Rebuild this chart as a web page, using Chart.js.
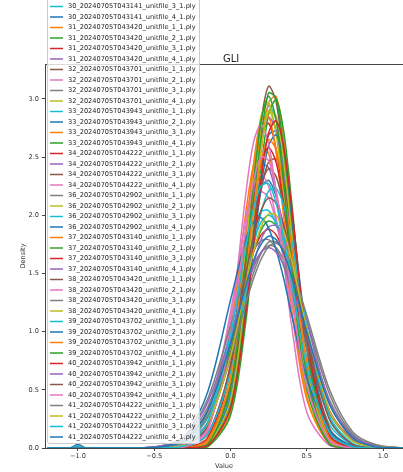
<!DOCTYPE html>
<html>
<head>
<meta charset="utf-8">
<script src="https://cdn.jsdelivr.net/npm/chart.js@4.4.1/dist/chart.umd.min.js"></script>
<style>
  html, body { margin: 0; padding: 0; background: #fff; }
  #c { display: block; }
</style>
</head>
<body>
<canvas id="c" width="403" height="472"></canvas>
<script>
const xs = [-1.2, -1.05, -1.0, -0.95, -0.65, -0.45, -0.3, -0.15, 0.0, 0.1, 0.15, 0.2, 0.25, 0.3, 0.35, 0.4, 0.5, 0.65, 0.8, 0.95, 1.13];

const xTicks = [-1.0, -0.5, 0.0, 0.5, 1.0];
const yTicks = [0.0, 0.5, 1.0, 1.5, 2.0, 2.5, 3.0];

// one list per run: [prefix, unitfile numbers]
const runs = [
  ["30_20240705T043141", [3, 4]],
  ["31_20240705T043420", [1, 2, 3, 4]],
  ["32_20240705T043701", [1, 2, 3, 4]],
  ["33_20240705T043943", [1, 2, 3, 4]],
  ["34_20240705T044222", [1, 2, 3, 4]],
  ["36_20240705T042902", [1, 2, 3, 4]],
  ["37_20240705T043140", [1, 2, 3, 4]],
  ["38_20240705T043420", [1, 2, 3, 4]],
  ["39_20240705T043702", [1, 2, 3, 4]],
  ["40_20240705T043942", [1, 2, 3, 4]],
  ["41_20240705T044222", [1, 2, 3, 4]],
];

// density values per run (one row per unitfile, aligned with xs)
const s30 = [
  [0,0,0,0,0, 0,0,0.03,0.47,1.47,2.12,2.68,2.94,2.82,2.36,1.73,0.62,0.05,0,0, 0],
  [0,0,0.03,0,0, 0,0.02,0.18,0.89,1.66,2.01,2.24,2.30,2.16,1.89,1.51,0.75,0.14,0.01,0, 0],
];
const s31 = [
  [0,0,0,0,0, 0,0,0.01,0.31,1.18,1.87,2.53,2.97,3.02,2.64,2.00,0.74,0.06,0,0, 0],
  [0,0,0,0,0, 0,0.05,0.26,0.87,1.44,1.68,1.87,1.95,1.91,1.77,1.55,0.98,0.31,0.06,0.01, 0],
  [0,0,0,0,0, 0,0,0.06,0.68,1.73,2.30,2.69,2.79,2.56,2.08,1.50,0.53,0.04,0,0, 0],
  [0,0,0,0,0, 0,0.01,0.19,0.98,1.86,2.23,2.43,2.41,2.17,1.78,1.32,0.56,0.08,0,0, 0],
];
const s32 = [
  [0,0,0,0,0, 0,0,0.02,0.40,1.43,2.16,2.80,3.11,2.97,2.44,1.71,0.54,0.03,0,0, 0],
  [0,0,0.02,0,0, 0,0.04,0.31,1.12,1.83,2.08,2.20,2.15,1.94,1.63,1.27,0.61,0.12,0.01,0, 0],
  [0,0,0,0,0, 0.01,0.06,0.28,0.82,1.29,1.50,1.67,1.77,1.77,1.70,1.54,1.10,0.46,0.12,0.02, 0],
  [0,0,0,0,0, 0,0,0.04,0.55,1.60,2.22,2.72,2.90,2.72,2.22,1.60,0.55,0.04,0,0, 0],
];
const s33 = [
  [0,0,0.02,0,0, 0,0.05,0.31,1.02,1.64,1.88,2.03,2.04,1.92,1.69,1.40,0.78,0.20,0.03,0, 0],
  [0,0,0,0,0, 0,0,0.03,0.43,1.27,1.83,2.37,2.69,2.72,2.45,1.95,0.87,0.11,0,0, 0],
  [0,0,0,0,0, 0,0.01,0.16,1.01,2.02,2.43,2.61,2.53,2.20,1.72,1.20,0.42,0.04,0,0, 0],
  [0,0,0,0,0, 0,0,0.01,0.28,1.08,1.73,2.38,2.87,2.99,2.71,2.13,0.86,0.08,0,0, 0],
];
const s34 = [
  [0,0,0,0,0, 0.01,0.07,0.32,0.94,1.46,1.68,1.83,1.88,1.83,1.68,1.46,0.94,0.32,0.07,0.01, 0],
  [0,0,0,0,0, 0,0,0.04,0.50,1.49,2.09,2.60,2.84,2.73,2.32,1.73,0.66,0.06,0,0, 0],
  [0,0,0,0,0, 0,0,0.07,0.53,1.32,1.79,2.21,2.46,2.48,2.27,1.89,0.97,0.17,0.01,0, 0],
  [0,0,0.02,0,0, 0,0.03,0.28,1.17,1.97,2.25,2.35,2.25,1.97,1.60,1.17,0.49,0.07,0,0, 0],
];
const s36 = [
  [0,0,0,0,0, 0.01,0.09,0.35,0.92,1.36,1.55,1.68,1.74,1.72,1.61,1.44,1.00,0.41,0.11,0.02, 0],
  [0,0,0,0,0, 0,0,0.04,0.60,1.72,2.38,2.85,2.97,2.69,2.13,1.45,0.45,0.03,0,0, 0],
  [0,0,0,0,0, 0,0.04,0.27,0.92,1.51,1.76,1.94,2.00,1.94,1.76,1.51,0.92,0.27,0.04,0, 0],
  [0,0,0,0,0, 0,0,0.03,0.39,1.18,1.72,2.24,2.60,2.69,2.48,2.05,0.99,0.14,0.01,0, 0],
];
const s37 = [
  [0,0,0.03,0,0, 0,0,0.07,0.73,1.85,2.43,2.81,2.85,2.53,1.97,1.35,0.43,0.03,0,0, 0],
  [0,0,0,0,0, 0,0,0.02,0.35,1.31,2.00,2.66,3.05,3.00,2.54,1.87,0.63,0.04,0,0, 0],
  [0,0,0,0,0, 0,0,0.09,0.69,1.61,2.09,2.45,2.58,2.45,2.09,1.61,0.69,0.09,0,0, 0],
  [0,0,0,0,0, 0,0.04,0.22,0.77,1.32,1.57,1.79,1.90,1.91,1.81,1.62,1.09,0.39,0.08,0.01, 0],
];
const s38 = [
  [0,0,0,0,0, 0,0.01,0.12,0.71,1.51,1.93,2.25,2.40,2.33,2.07,1.69,0.85,0.16,0.01,0, 0],
  [0,0,0,0,0, 0,0.01,0.14,1.06,2.18,2.62,2.78,2.62,2.18,1.60,1.06,0.31,0.02,0,0, 0],
  [0,0,0,0,0, 0.02,0.10,0.42,1.05,1.51,1.69,1.78,1.79,1.71,1.56,1.34,0.86,0.30,0.07,0.01, 0],
  [0,0,0,0,0, 0,0,0.03,0.41,1.35,1.98,2.56,2.89,2.85,2.45,1.86,0.71,0.06,0,0, 0],
];
const s39 = [
  [0,0,0,0,0, 0,0.01,0.12,0.65,1.34,1.72,2.02,2.21,2.23,2.08,1.79,1.05,0.26,0.03,0, 0],
  [0,0,0.03,0,0, 0.01,0.10,0.48,1.27,1.79,1.94,1.98,1.89,1.70,1.45,1.15,0.60,0.15,0.02,0, 0],
  [0,0,0,0,0, 0,0,0.06,0.60,1.50,2.04,2.46,2.65,2.56,2.22,1.73,0.74,0.09,0,0, 0],
  [0,0,0,0,0, 0,0,0.03,0.51,1.58,2.26,2.81,3.02,2.81,2.26,1.58,0.51,0.03,0,0, 0],
];
const s40 = [
  [0,0,0,0,0, 0,0,0.02,0.34,1.15,1.73,2.30,2.71,2.81,2.58,2.08,0.94,0.11,0,0, 0],
  [0,0,0.02,0,0, 0.02,0.10,0.39,0.96,1.39,1.57,1.68,1.72,1.68,1.57,1.39,0.96,0.39,0.10,0.02, 0],
  [0,0,0,0,0, 0,0.02,0.19,0.81,1.49,1.81,2.04,2.15,2.10,1.91,1.62,0.94,0.24,0.03,0, 0],
  [0,0,0,0,0, 0,0.01,0.16,0.96,1.89,2.29,2.50,2.47,2.21,1.80,1.32,0.53,0.06,0,0, 0],
];
const s41 = [
  [0,0,0,0,0, 0.01,0.06,0.27,0.78,1.24,1.45,1.62,1.73,1.76,1.70,1.56,1.14,0.50,0.14,0.03, 0],
  [0,0,0,0,0, 0,0.03,0.21,0.79,1.40,1.68,1.90,2.01,2.00,1.86,1.62,1.03,0.32,0.06,0.01, 0],
  [0,0,0.02,0,0, 0,0.02,0.22,0.97,1.73,2.05,2.25,2.27,2.10,1.80,1.43,0.70,0.13,0.01,0, 0],
  [0,0,0,0,0, 0.01,0.07,0.32,0.90,1.39,1.61,1.75,1.82,1.79,1.67,1.48,1.00,0.37,0.09,0.01, 0],
];

const runValues = [s30, s31, s32, s33, s34, s36, s37, s38, s39, s40, s41];

// matplotlib tab10 cycle; the first visible entry sits at the cyan slot
const tab10 = ["#1f77b4", "#ff7f0e", "#2ca02c", "#d62728", "#9467bd",
               "#8c564b", "#e377c2", "#7f7f7f", "#bcbd22", "#17becf"];

const datasets = [];
runs.forEach(function (run, r) {
  run[1].forEach(function (u, k) {
    const i = datasets.length;
    const vals = runValues[r][k];
    datasets.push({
      label: run[0] + "_unitfile_" + u + "_1.ply",
      data: xs.map(function (x, j) { return { x: x, y: vals[j] }; }),
      borderColor: tab10[(i + 9) % 10],
      backgroundColor: tab10[(i + 9) % 10],
      borderWidth: 1.5,
      pointRadius: 0,
      tension: 0.3,
      fill: false,
    });
  });
});
// matplotlib puts the last series on top
datasets.forEach(function (d, i) { d.order = datasets.length - i; });

const FONT = "DejaVu Sans";
const fmt = function (v) { return (v < 0 ? "\u2212" : "") + Math.abs(v).toFixed(1); };

// title, top spine and the legend box drawn inside the axes
const overlay = {
  id: "overlay",
  afterDraw(chart) {
    const c = chart.ctx;
    const a = chart.chartArea;
    c.save();
    c.strokeStyle = "#444";
    c.lineWidth = 1;
    c.beginPath();
    c.moveTo(a.left, a.top + 0.5);
    c.lineTo(a.right, a.top + 0.5);
    c.stroke();

    c.fillStyle = "#222";
    c.font = "10px '" + FONT + "'";
    c.textAlign = "left";
    c.textBaseline = "alphabetic";
    c.fillText("GLI", 223, 61.5);

    // legend
    const n = chart.data.datasets.length;
    const rowH = 10.5;
    const lastY = 437;
    c.beginPath();
    c.roundRect(47.5, -6, 152, 449.5, 2);
    c.fillStyle = "rgba(255,255,255,0.8)";
    c.fill();
    c.strokeStyle = "#cccccc";
    c.stroke();

    c.font = "6.6px '" + FONT + "'";
    c.textBaseline = "middle";
    chart.data.datasets.forEach(function (d, i) {
      const y = lastY - (n - 1 - i) * rowH;
      c.strokeStyle = d.borderColor;
      c.lineWidth = 1.5;
      c.beginPath();
      c.moveTo(50, y);
      c.lineTo(63, y);
      c.stroke();
      c.fillStyle = "#222";
      c.fillText(d.label, 68, y);
    });
    c.restore();
  },
};

new Chart(document.getElementById("c"), {
  type: "line",
  data: { datasets: datasets },
  options: {
    responsive: false,
    animation: false,
    devicePixelRatio: 1,
    layout: { padding: { top: 64, right: 0, bottom: 0, left: 0 } },
    plugins: { legend: { display: false }, tooltip: { enabled: false } },
    scales: {
      x: {
        type: "linear",
        min: -1.216,
        max: 1.131,
        afterFit: function (s) { s.height = 24; },
        afterBuildTicks: function (s) { s.ticks = xTicks.map(function (v) { return { value: v }; }); },
        ticks: { callback: fmt, font: { family: FONT, size: 6.6 }, color: "#333", padding: 1, maxRotation: 0 },
        grid: { drawOnChartArea: false, drawTicks: true, tickLength: 3, color: "#444" },
        border: { color: "#444", width: 1 },
        title: { display: true, text: "Value", font: { family: FONT, size: 6.6 }, color: "#333", padding: { top: 0, bottom: 2 } },
      },
      y: {
        min: 0,
        max: 3.3,
        afterFit: function (s) { s.width = 45; },
        afterBuildTicks: function (s) { s.ticks = yTicks.map(function (v) { return { value: v }; }); },
        ticks: { callback: fmt, font: { family: FONT, size: 6.6 }, color: "#333", padding: 3 },
        grid: { drawOnChartArea: false, drawTicks: true, tickLength: 3, color: "#444" },
        border: { color: "#444", width: 1 },
        title: { display: true, text: "Density", font: { family: FONT, size: 6.6 }, color: "#333", padding: { top: 19, bottom: 0 } },
      },
    },
  },
  plugins: [overlay],
});
</script>
</body>
</html>
